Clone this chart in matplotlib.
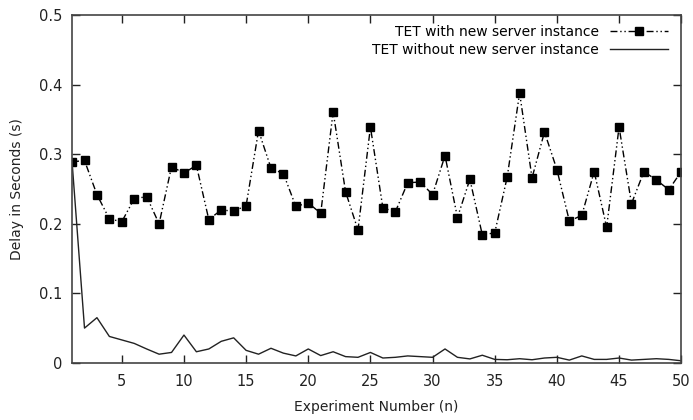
import matplotlib
matplotlib.use("Agg")
import matplotlib.pyplot as plt

x = list(range(1, 51))
with_new = [0.289, 0.291, 0.242, 0.207, 0.203, 0.236, 0.239, 0.200, 0.282, 0.273,
            0.284, 0.206, 0.220, 0.218, 0.226, 0.334, 0.280, 0.272, 0.225, 0.230,
            0.215, 0.361, 0.246, 0.191, 0.339, 0.223, 0.217, 0.259, 0.260, 0.242,
            0.298, 0.209, 0.264, 0.184, 0.187, 0.267, 0.388, 0.266, 0.332, 0.278,
            0.204, 0.212, 0.275, 0.195, 0.339, 0.229, 0.275, 0.263, 0.249, 0.275]
without_new = [0.289, 0.050, 0.065, 0.038, 0.033, 0.028, 0.020, 0.0125, 0.015, 0.040,
               0.016, 0.020, 0.031, 0.036, 0.018, 0.0125, 0.021, 0.014, 0.010, 0.020,
               0.0105, 0.016, 0.009, 0.008, 0.015, 0.007, 0.008, 0.010, 0.009, 0.008,
               0.020, 0.008, 0.0057, 0.011, 0.005, 0.0045, 0.006, 0.0045, 0.007, 0.008,
               0.004, 0.010, 0.005, 0.005, 0.007, 0.004, 0.005, 0.006, 0.005, 0.003]
xticks = [5, 10, 15, 20, 25, 30, 35, 40, 45, 50]
yticks = [0, 0.1, 0.2, 0.3, 0.4, 0.5]
ytick_labels = ["0", "0.1", "0.2", "0.3", "0.4", "0.5"]

plt.rcParams['font.family'] = ['DejaVu Sans']
fig = plt.figure(figsize=(6.93, 4.2), dpi=100)
ax = fig.add_axes([0.104, 0.136, 0.879, 0.828])

ax.plot(x, with_new, color='black', linewidth=1.0, linestyle=(0, (5, 2, 1, 2, 1, 2)),
        marker='s', markersize=6, label='TET with new server instance')
ax.plot(x, without_new, color='#222222', linewidth=1.0, linestyle='-',
        label='TET without new server instance')

ax.set_xlim(1, 50)
ax.set_ylim(0, 0.5)
ax.set_xticks(xticks)
ax.set_yticks(yticks)
ax.set_yticklabels(ytick_labels)
ax.tick_params(direction='in', top=True, right=True, length=6, width=1,
               labelsize=10.5, colors='#222222')
ax.tick_params(axis='x', pad=8)
ax.tick_params(axis='y', pad=7)
for s in ax.spines.values():
    s.set_color('#444444')
    s.set_linewidth(1.2)

ax.set_xlabel('Experiment Number (n)', fontsize=10, color='#222222', labelpad=8)
ax.set_ylabel('Delay in Seconds (s)', fontsize=10, color='#222222', labelpad=11)

leg = ax.legend(loc='upper right', frameon=False, markerfirst=False, fontsize=10,
                handlelength=4.2, borderaxespad=0.3, labelspacing=0.3,
                bbox_to_anchor=(0.995, 1.0))
for t in leg.get_texts():
    t.set_ha('right')

fig.savefig('out.png', dpi=100)
